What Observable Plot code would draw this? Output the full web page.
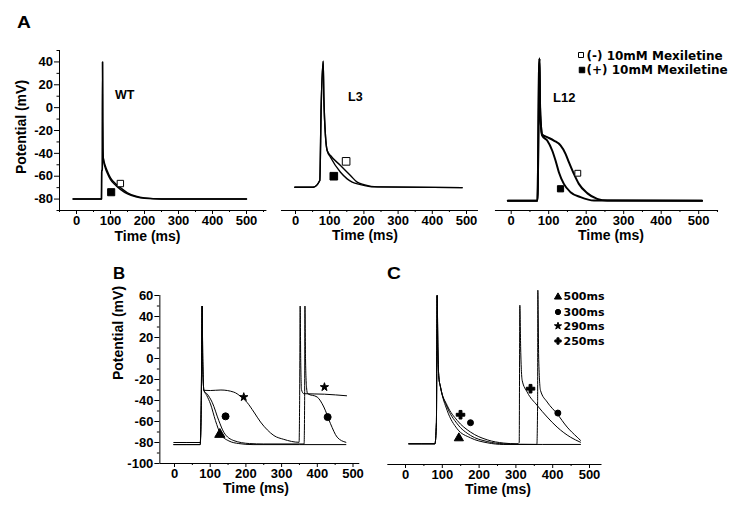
<!DOCTYPE html>
<html><head><meta charset="utf-8">
<script src="https://cdn.jsdelivr.net/npm/d3@7"></script>
<script src="https://cdn.jsdelivr.net/npm/@observablehq/plot@0.6"></script>
<style>
html,body{margin:0;padding:0;background:#fff;}
#wrap{position:relative;width:733px;height:510px;overflow:hidden;background:#fff;color:#000;
  font-family:"Liberation Sans",Arial,Helvetica,sans-serif;font-weight:bold;}
.lbl{position:absolute;white-space:nowrap;line-height:1;}
.sym{position:absolute;overflow:visible;}
</style></head><body><div id="wrap"></div>
<script>
// ---------------- DATA ----------------
const timeTicks = [0, 100, 200, 300, 400, 500];
const timeMinor = [-50, 50, 150, 250, 350, 450, 550];
const potTicksA = [-80, -60, -40, -20, 0, 20, 40];
const potMinorA = [-90, -70, -50, -30, -10, 10, 30, 50];
const potTicksB = [-100, -80, -60, -40, -20, 0, 20, 40, 60];
const potMinorB = [-90, -70, -50, -30, -10, 10, 30, 50];

// Panel A – WT  [time ms, potential mV]
const wtMinus = [[-10,-80],[73.5,-80],[74,-56],[76,-54],[76.6,40],[77.2,-12],[77.8,-35],[79,-44],[85,-51],[90,-55],[100,-61.5],[115,-66.5],[129,-70],[150,-74.5],[175,-77.5],[200,-79],[250,-80],[400,-80],[500,-80]];
const wtPlus  = [[-10,-80],[73.5,-80],[74,-56],[76,-54],[76.6,40],[77.2,-12],[77.8,-35],[79,-45],[85,-53],[90,-57],[100,-63],[115,-68],[129,-71.5],[150,-75.5],[175,-78],[200,-79.3],[250,-80],[400,-80],[500,-80]];
// Panel A – L3
const l3Minus = [[-2,-69.6],[52,-69.6],[71,-63.8],[75,0],[80.9,40.6],[82.8,10],[85,-10],[87.7,-25],[92.6,-37.5],[102.3,-41.9],[131.6,-50.6],[160.8,-59.4],[180.3,-65.2],[199.8,-67.3],[240,-69.3],[487,-70]];
const l3Plus  = [[-2,-69.6],[52,-69.6],[71,-63.8],[75,0],[80.9,40.6],[82.8,10],[85,-10],[87.7,-25],[92.6,-37.5],[102.3,-43.4],[131.6,-56.5],[151,-62.3],[165.7,-65.2],[190,-67.3],[230,-69.3],[487,-70]];
// Panel A – L12
const l12Minus = [[-9,-81.5],[70,-81.5],[71,-70],[74,30],[75.5,43],[77,0],[79,-14],[82.6,-23.5],[96,-25.8],[113.8,-28.8],[131.5,-33.1],[144.9,-40.4],[153.8,-47.7],[167.1,-57.9],[180.4,-66.7],[202.6,-74.8],[229.3,-79.8],[256,-81.3],[509,-81.5]];
const l12Plus  = [[-9,-81.5],[70,-81.5],[71,-70],[74,30],[75.5,43],[77,0],[79,-14],[82.6,-24.4],[96,-28.8],[109.3,-37.5],[118.2,-46.3],[127.1,-56.5],[140.4,-66.7],[158.2,-74],[184.9,-78.3],[220.4,-81.3],[509,-81.5]];
// Panel A markers
const wtOpen = [[129,-66.4]],  wtFilled = [[102,-74]];
const l3Open = [[148,-47]],    l3Filled = [[112,-60]];
const l12Open = [[177.6,-57.4]], l12Filled = [[131.5,-71]];

// Panel B
const b500 = [[-2,-82],[72,-82],[75,-40],[77.5,50],[79,0],[81,-25],[82.2,-30.3],[90,-35],[100.8,-43.3],[114.8,-59.2],[128.9,-71.9],[152.3,-78.5],[180,-81],[220,-82],[480,-82]];
const b300 = [[-2,-82],[72,-82],[75,-40],[77.5,50],[79,0],[81,-25],[82.2,-30.3],[92,-34],[105.5,-41.7],[124.2,-59.2],[138.2,-70.3],[166.3,-78.2],[210,-81],[250,-81.4],[363,-81.4],[364.5,-40],[365.4,50],[367,0],[370,-28],[372.8,-33.5],[399.7,-36.7],[418.3,-46.2],[437,-62.1],[455.6,-74.9],[480,-79.8]];
const b290 = [[-2,-80],[72,-80],[75,-40],[77.5,50],[79,0],[81,-25],[82.2,-30.3],[100.8,-30.5],[130,-30],[166,-32],[185,-36],[203.7,-42],[222.4,-51],[241,-60.5],[260,-68],[278.5,-73.4],[306,-77],[349,-79.8],[350.5,-40],[352,50],[353.5,0],[356,-30],[362,-33.5],[420,-34],[482,-35.5]];
const bTri = [[127,-72.3]];
const bCircle = [[143,-55.1],[429,-55.8]];
const bStar = [[194,-36.7],[420,-27.2]];

// Panel C
const c500 = [[9,-80.3],[80,-80.3],[84,-60],[86,61],[88,10],[90.6,-16.7],[95.1,-26.2],[113.2,-48.5],[140.4,-66],[176.6,-74.6],[221.9,-79.3],[267.2,-80.9],[475.5,-80.9]];
const c300 = [[9,-80.3],[80,-80.3],[84,-60],[86,61],[88,10],[90.6,-16.7],[95.1,-26.2],[113.2,-45.3],[140.4,-61.2],[176.6,-72.3],[221.9,-78.1],[267.2,-80.3],[357,-80.9],[359,-40],[359.6,66],[362,0],[366.8,-29.4],[385,-40.5],[412,-51.7],[439.3,-64.4],[466.5,-74],[475.5,-77]];
const c250 = [[9,-80.3],[80,-80.3],[84,-60],[86,61],[88,10],[90.6,-16.7],[95.1,-26.2],[113.2,-43.7],[140.4,-58],[176.6,-69.1],[221.9,-76.5],[267.2,-79.6],[303.4,-80.3],[309,-79],[310.7,51.7],[313,10],[317,-19.8],[330.6,-31],[357.8,-43.7],[385,-54.8],[412,-64.4],[448.4,-74],[475.5,-78.8]];
const cTri = [[145,-74.9]];
const cCircle = [[176.6,-60.2],[414,-51]];
const cCross = [[149.5,-52.6],[339.7,-27.8]];

const legendA = ["(-) 10mM Mexiletine", "(+) 10mM Mexiletine"];
const legendC = ["500ms", "300ms", "290ms", "250ms"];

// ---------------- DRAWING ----------------
const W = 733, H = 510;
const wrap = document.getElementById("wrap");
const FONT = '"Liberation Sans", Arial, Helvetica, sans-serif';

function panel(o) {
  const px = [o.ox + o.k * o.xd[0], o.ox + o.k * o.xd[1]];
  const inX = v => v >= o.xd[0] && v <= o.xd[1];
  const inY = v => v >= o.yd[0] && v <= o.yd[1];
  const marks = [Plot.ruleY([o.yd[0]], {stroke: "black", strokeWidth: 1})];
  marks.push(Plot.axisX({ticks: timeTicks.filter(inX), tickSize: 4, tickPadding: 1.5, tickFormat: d => String(d), label: null}));
  marks.push(Plot.axisX({ticks: timeMinor.filter(inX), tickSize: 2, tickFormat: () => "", label: null}));
  if (o.yTicks) {
    marks.push(Plot.ruleX([o.xd[0]], {stroke: "black", strokeWidth: 1}));
    marks.push(Plot.axisY({ticks: o.yTicks.filter(inY), tickSize: 5, tickPadding: 1.5, tickFormat: d => String(d), label: null}));
    marks.push(Plot.axisY({ticks: o.yMinor.filter(inY), tickSize: 2.5, tickFormat: () => "", label: null}));
  }
  for (const s of o.series) marks.push(Plot.line(s, {x: d => d[0], y: d => d[1], curve: "monotone-x", stroke: "black", strokeWidth: o.sw}));
  for (const m of o.markers) marks.push(Plot.dot(m.data, {x: d => d[0], y: d => d[1], symbol: m.symbol, r: m.r, fill: m.fill, stroke: "black", strokeWidth: 1}));
  const svg = Plot.plot({
    width: W, height: H,
    marginLeft: px[0], marginRight: W - px[1], marginTop: o.py[0], marginBottom: H - o.py[1],
    x: {domain: o.xd},
    y: o.yTicks ? {domain: o.yd} : {domain: o.yd, axis: null},
    style: {position: "absolute", left: "0px", top: "0px", background: "transparent", overflow: "visible",
            fontFamily: FONT, fontSize: "13px", fontWeight: "bold", color: "black", maxWidth: "none"},
    marks
  });
  wrap.appendChild(svg);
}

const yA = {yd: [-90, 50], py: [50, 210]};
panel({...yA, ox: 76, k: 0.34, xd: [-50, 560], yTicks: potTicksA, yMinor: potMinorA, sw: 1.4,
  series: [wtMinus, wtPlus],
  markers: [{data: wtOpen, symbol: "square", r: 3.6, fill: "white"}, {data: wtFilled, symbol: "square", r: 4, fill: "black"}]});
panel({...yA, ox: 295, k: 0.342, xd: [-41, 535], sw: 1.4,
  series: [l3Minus, l3Plus],
  markers: [{data: l3Open, symbol: "square", r: 4.3, fill: "white"}, {data: l3Filled, symbol: "square", r: 4.3, fill: "black"}]});
panel({...yA, ox: 510.7, k: 0.375, xd: [-42, 553], sw: 2,
  series: [l12Minus, l12Plus],
  markers: [{data: l12Open, symbol: "square", r: 3.3, fill: "white"}, {data: l12Filled, symbol: "square", r: 3.5, fill: "black"}]});
panel({yd: [-100, 60], py: [295, 463], ox: 174, k: 0.357, xd: [-41, 519], yTicks: potTicksB, yMinor: potMinorB, sw: 1,
  series: [b500, b300, b290],
  markers: [{data: bTri, symbol: "triangle", r: 3.8, fill: "black"}, {data: bCircle, symbol: "circle", r: 3.5, fill: "black"},
            {data: bStar, symbol: "star", r: 2.6, fill: "black"}]});
panel({yd: [-100, 60], py: [296, 464], ox: 405, k: 0.368, xd: [-48, 534], sw: 1,
  series: [c500, c300, c250],
  markers: [{data: cTri, symbol: "triangle", r: 3.4, fill: "black"}, {data: cCircle, symbol: "circle", r: 3, fill: "black"},
            {data: cCross, symbol: "cross", r: 3.6, fill: "black"}]});

// ---------------- TEXT ----------------
function label(text, x, baseline, size, opts = {}) {
  const d = document.createElement("div");
  d.className = "lbl";
  d.textContent = text;
  d.style.fontSize = size + "px";
  if (opts.family) d.style.fontFamily = opts.family;
  d.style.top = (baseline - 0.8465 * size) + "px";
  d.style.left = x + "px";
  const tf = [];
  if (opts.center) tf.push("translateX(-50%)");
  if (opts.sx) { d.style.transformOrigin = "left center"; tf.push(`scaleX(${opts.sx})`); }
  if (tf.length) d.style.transform = tf.join(" ");
  wrap.appendChild(d);
  return d;
}
function vlabel(text, cx, cy, size) {
  const d = document.createElement("div");
  d.className = "lbl";
  d.textContent = text;
  d.style.fontSize = size + "px";
  d.style.left = cx + "px";
  d.style.top = cy + "px";
  d.style.transform = "translate(-50%,-50%) rotate(-90deg)";
  wrap.appendChild(d);
}
function sym(type, cx, cy, size, fill) {
  const ns = "http://www.w3.org/2000/svg";
  const s = document.createElementNS(ns, "svg");
  s.setAttribute("class", "sym");
  s.setAttribute("width", 12); s.setAttribute("height", 12);
  s.style.left = (cx - 6) + "px"; s.style.top = (cy - 6) + "px";
  const p = document.createElementNS(ns, "path");
  p.setAttribute("d", d3.symbol(type, size)());
  p.setAttribute("transform", "translate(6,6)");
  p.setAttribute("fill", fill); p.setAttribute("stroke", "black"); p.setAttribute("stroke-width", 1);
  s.appendChild(p);
  wrap.appendChild(s);
}

label("A", 17, 28.5, 16, {sx: 1.2});
label("B", 113, 280, 16, {sx: 1.05});
label("C", 387, 279.5, 16, {sx: 1.2});

vlabel("Potential (mV)", 21, 127, 14);
vlabel("Potential (mV)", 118, 333, 14);

label("Time (ms)", 147.5, 241, 14, {center: true});
label("Time (ms)", 365, 240, 14, {center: true});
label("Time (ms)", 611, 240, 14, {center: true});
label("Time (ms)", 256, 493, 14, {center: true});
label("Time (ms)", 498, 494, 14, {center: true});

label("WT", 115, 100, 12.5);
label("L3", 348, 101.5, 12.5);
label("L12", 553, 101.7, 13);

const DJ = '"DejaVu Sans", "Liberation Sans", sans-serif';
sym(d3.symbolSquare, 581.2, 55, 25, "white");
label(legendA[0], 586.5, 60, 12, {family: DJ});
sym(d3.symbolSquare, 581.5, 70, 30, "black");
label(legendA[1], 586.5, 74.5, 12, {family: DJ});

const cSyms = [d3.symbolTriangle, d3.symbolCircle, d3.symbolStar, d3.symbolCross];
const cBase = [300.7, 316, 330, 345];
legendC.forEach((t, i) => {
  sym(cSyms[i], 557.5, cBase[i] - 4, i === 2 ? 16 : 22, "black");
  label(t, 563.5, cBase[i], 11, {family: DJ});
});
</script></body></html>
